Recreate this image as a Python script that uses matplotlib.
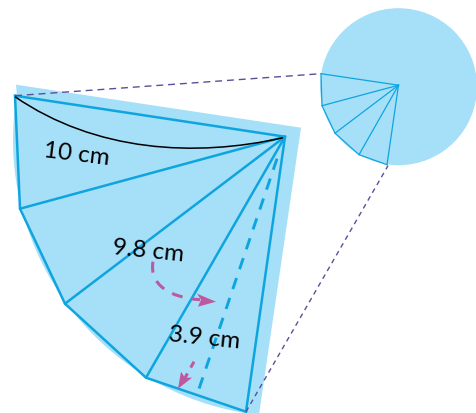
import numpy as np
import matplotlib
matplotlib.use('Agg')
import matplotlib.pyplot as plt
from matplotlib.patches import Circle, Polygon, PathPatch
from matplotlib.path import Path

plt.rcParams['font.family'] = ['Lato', 'DejaVu Sans']

LIGHT = '#a6dff8'
BLUE = '#0ea5df'
PURPLE = '#5b4f9b'
PINK = '#bd5a9f'

# big sector, in pixels of the picture
apex = (285, 137)
rim = [(15, 96), (20, 209), (65, 304), (146, 378), (246, 412)]
backing_center = (290, 140)
backing_radius = 277

# small circle
circle_center = (398.5, 87)
circle_radius = 78.5
small_apex = (398.5, 85.5)
small_rim = [(321, 74), (322, 106), (335, 133.5), (359, 155), (387, 165)]

fig = plt.figure(figsize=(4.77, 4.14), dpi=100)
ax = fig.add_axes([0, 0, 1, 1])
ax.set_xlim(0, 477)
ax.set_ylim(413.3, -0.7)
ax.axis('off')

# light backing of the big sector
a = np.radians(np.linspace(189.5, 96.4, 60))
arc_x = backing_center[0] + backing_radius * np.cos(a)
arc_y = backing_center[1] + backing_radius * np.sin(a)
backing = [(16, 85), (301, 128), (259, 415)] + list(zip(arc_x[::-1], arc_y[::-1]))
ax.add_patch(Polygon(backing, closed=True, fc=LIGHT, ec='none', zorder=1))

ax.add_patch(Circle(circle_center, circle_radius, fc=LIGHT, ec='none', zorder=1))

# outline of the triangles
for p in rim:
    ax.plot([apex[0], p[0]], [apex[1], p[1]], color=BLUE, lw=1.8, zorder=3, solid_capstyle='round')
ax.plot([p[0] for p in rim], [p[1] for p in rim], color=BLUE, lw=1.8, zorder=3)

for p in small_rim:
    ax.plot([small_apex[0], p[0]], [small_apex[1], p[1]], color=BLUE, lw=0.9, zorder=3)
ax.plot([p[0] for p in small_rim], [p[1] for p in small_rim], color=BLUE, lw=0.9, zorder=3)

# height of the last triangle
ax.plot([277, 197], [159, 395], color=BLUE, lw=2.1, dashes=(4, 3.2), zorder=3)

# purple links between circle and sector
ax.plot([15, 321], [96, 74], color=PURPLE, lw=1.0, dashes=(5, 3.5), zorder=4)
ax.plot([246, 388], [412, 166], color=PURPLE, lw=1.0, dashes=(3.5, 3), zorder=4)

# black arc
curve = Path([(15, 97), (95, 152), (195, 158), (283, 138)],
             [Path.MOVETO, Path.CURVE4, Path.CURVE4, Path.CURVE4])
ax.add_patch(PathPatch(curve, fc='none', ec='black', lw=1.1, zorder=4))

# pink arrows
turn = Path([(153, 262), (149, 285), (170, 298), (200, 300)],
            [Path.MOVETO, Path.CURVE4, Path.CURVE4, Path.CURVE4])
ax.add_patch(PathPatch(turn, fc='none', ec=PINK, lw=2.2, ls=(0, (3.6, 3)), zorder=5))
ax.add_patch(Polygon([(197, 294), (216, 302), (198, 307), (201, 300)], fc=PINK, ec='none', zorder=5))
ax.plot([194, 184], [362, 380], color=PINK, lw=2.2, dashes=(2.2, 2.2), zorder=5)
ax.add_patch(Polygon([(181, 372), (185, 378), (192, 378), (178, 389)], fc=PINK, ec='none', zorder=5))

ax.text(76.5, 154, '10 cm', fontsize=17.5, rotation=-7, ha='center', va='center', color='black', zorder=6)
ax.text(148, 251, '9.8 cm', fontsize=17.5, rotation=-6, ha='center', va='center', color='black', zorder=6)
ax.text(204, 338, '3.9 cm', fontsize=17.5, rotation=-6, ha='center', va='center', color='black', zorder=6)

fig.savefig('out.png', dpi=100)
